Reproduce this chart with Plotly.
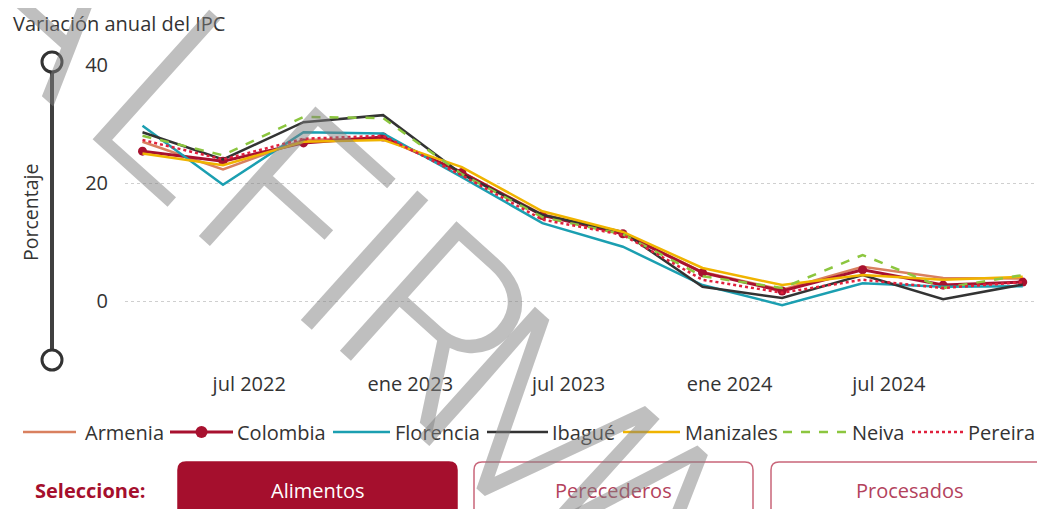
import plotly.graph_objects as go

# ---------------- data ----------------
dates = ["2022-03-01", "2022-06-01", "2022-09-01", "2022-12-01",
         "2023-03-01", "2023-06-01", "2023-09-01", "2023-12-01",
         "2024-03-01", "2024-06-01", "2024-09-01", "2024-12-01"]

armenia   = [27.0, 22.3, 27.3, 27.6, 21.8, 14.7, 11.5, 4.9, 1.9, 5.8, 3.9, 3.8]
colombia  = [25.4, 23.7, 26.8, 27.8, 21.8, 14.5, 11.4, 4.8, 1.7, 5.3, 2.7, 3.2]
florencia = [29.7, 19.7, 28.6, 28.4, 21.0, 13.2, 9.2, 2.7, -0.7, 3.0, 2.4, 2.5]
ibague    = [28.6, 24.0, 30.3, 31.5, 21.5, 14.6, 11.7, 2.4, 0.5, 4.4, 0.3, 2.8]
manizales = [25.0, 23.0, 27.0, 27.3, 22.7, 15.2, 11.7, 5.6, 2.7, 4.4, 3.6, 4.1]
neiva     = [28.0, 24.7, 31.2, 31.0, 21.5, 14.2, 11.3, 4.2, 2.2, 7.8, 2.2, 4.4]
pereira   = [27.3, 24.0, 27.5, 28.0, 21.3, 13.8, 11.2, 3.6, 1.4, 3.6, 2.2, 3.2]

tick_vals = ["2022-07-01", "2023-01-01", "2023-07-01", "2024-01-01", "2024-07-01"]
tick_text = ["jul 2022", "ene 2023", "jul 2023", "ene 2024", "jul 2024"]
y_ticks = [0, 20, 40]

buttons = ["Alimentos", "Perecederos", "Procesados"]
watermark_letters = ["A", "L", "F", "I", "R", "M", "A"]

# ---------------- layout geometry (page pixels) ----------------
OFF = 8                      # default page body margin
FW, FH = 1045 - OFF, 509 - OFF
PL, PR, PT, PB = 125, 1035, 65, 360     # plot box on the page
L = PL - OFF
T = PT - OFF
W = PR - PL
H = PB - PT
R = FW - L - W
B = FH - T - H
FONT = "Open Sans"
TXT = "#333333"
CRIMSON = "#a50f2d"


def px(x):
    return (x - PL) / W


def py(y):
    return (PB - y) / H


fig = go.Figure()

series = [
    ("Armenia", armenia, dict(color="#d9805f", width=2.5), None),
    ("Colombia", colombia, dict(color="#a8112f", width=3), dict(size=9, color="#a8112f")),
    ("Florencia", florencia, dict(color="#1b9fb1", width=2.5), None),
    ("Ibagué", ibague, dict(color="#333333", width=2.5), None),
    ("Manizales", manizales, dict(color="#f0b400", width=2.5), None),
    ("Neiva", neiva, dict(color="#8cc63f", width=2.5, dash="dash"), None),
    ("Pereira", pereira, dict(color="#e0203c", width=2.5, dash="dot"), None),
]
for name, vals, line, marker in series:
    fig.add_trace(go.Scatter(
        x=dates, y=vals, name=name,
        mode="lines+markers" if marker else "lines",
        line=line, marker=marker, showlegend=False,
    ))

shapes = []
annotations = []

# ---- custom legend (sample line + label) ----
legend_pos = [(23, 76, 83), (170, 233, 235), (333, 390, 393), (487, 548, 550),
              (623, 680, 683), (783, 847, 850), (912, 963, 966)]
LY = 432
for (name, vals, line, marker), (lx0, lx1, tx) in zip(series, legend_pos):
    shapes.append(dict(type="line", xref="paper", yref="paper",
                       x0=px(lx0), x1=px(lx1), y0=py(LY), y1=py(LY),
                       line=dict(color=line["color"], width=line["width"],
                                 dash=line.get("dash", "solid"))))
    if marker:
        cx = (lx0 + lx1) / 2
        shapes.append(dict(type="circle", xref="paper", yref="paper",
                           x0=px(cx - 6), x1=px(cx + 6), y0=py(LY + 6), y1=py(LY - 6),
                           fillcolor=line["color"], line=dict(width=0)))
    annotations.append(dict(text=name, xref="paper", yref="paper",
                            x=px(tx), y=py(LY), xanchor="left", yanchor="middle",
                            showarrow=False,
                            font=dict(family=FONT, size=20, color=TXT)))

# ---- y-axis slider decoration ----
shapes.append(dict(type="line", xref="paper", yref="paper",
                   x0=px(52), x1=px(52), y0=py(72), y1=py(350),
                   line=dict(color="#404040", width=4), layer="above"))
for cy in (62, 360):
    shapes.append(dict(type="circle", xref="paper", yref="paper",
                       x0=px(42), x1=px(62), y0=py(cy + 10), y1=py(cy - 10),
                       line=dict(color="#333333", width=3), fillcolor="white", layer="above"))


def rounded(x0, y0, x1, y1, r):
    return (f"M {px(x0 + r)},{py(y0)} L {px(x1 - r)},{py(y0)} "
            f"Q {px(x1)},{py(y0)} {px(x1)},{py(y0 + r)} "
            f"L {px(x1)},{py(y1)} L {px(x0)},{py(y1)} "
            f"L {px(x0)},{py(y0 + r)} Q {px(x0)},{py(y0)} {px(x0 + r)},{py(y0)} Z")


btn_x = [(178, 457), (474, 753), (771, 1060)]
btn_cx = [317, 613, 910]
for i, ((bx0, bx1), label, cx) in enumerate(zip(btn_x, buttons, btn_cx)):
    active = i == 0
    shapes.append(dict(type="path", xref="paper", yref="paper",
                       path=rounded(bx0, 462, bx1, 520, 8),
                       fillcolor=CRIMSON if active else "white",
                       line=dict(color=CRIMSON if active else "#c9667a", width=1.5)))
    annotations.append(dict(text=label, xref="paper", yref="paper",
                            x=px(cx), y=py(491), xanchor="center", yanchor="middle",
                            showarrow=False,
                            font=dict(family=FONT, size=20,
                                      color="white" if active else "#b3425c")))

annotations += [
    dict(text="Variación anual del IPC", xref="paper", yref="paper",
         x=px(11), y=py(24), xanchor="left", yanchor="middle", showarrow=False,
         font=dict(family=FONT, size=20, color=TXT)),
    dict(text="Porcentaje", xref="paper", yref="paper", textangle=-90,
         x=px(30), y=py(213), xanchor="center", yanchor="middle", showarrow=False,
         font=dict(family=FONT, size=19.5, color=TXT)),
    dict(text="<b>Seleccione:</b>", xref="paper", yref="paper",
         x=px(90), y=py(491), xanchor="center", yanchor="middle", showarrow=False,
         font=dict(family=FONT, size=20, color=CRIMSON)),
]

# watermark, one glyph per annotation along a diagonal
wm_pos = [(55, -5), (180, 105), (290, 205), (362, 262), (438, 326), (537, 430), (642, 517)]
for ch, (wx, wy) in zip(watermark_letters, wm_pos):
    annotations.append(dict(text=ch, xref="paper", yref="paper",
                            x=px(wx), y=py(wy), xanchor="center", yanchor="middle",
                            textangle=42, showarrow=False,
                            font=dict(family="Roboto", weight=300,
                                      size=245, color="rgba(128,128,128,0.5)")))

fig.update_layout(
    width=FW, height=FH,
    margin=dict(l=L, r=R, t=T, b=B, autoexpand=False),
    paper_bgcolor="white", plot_bgcolor="white",
    font=dict(family=FONT, size=20, color=TXT),
    showlegend=False,
    shapes=shapes,
    annotations=annotations,
    xaxis=dict(type="date", range=["2022-02-09", "2024-12-15"],
               tickvals=tick_vals, ticktext=tick_text, showgrid=False,
               zeroline=False, showline=False, ticks="", ticklabelstandoff=10,
               tickfont=dict(family=FONT, size=20, color=TXT)),
    yaxis=dict(range=[-10, 40], tickvals=y_ticks, showgrid=True,
               gridcolor="#cfcfcf", griddash="dot", gridwidth=1,
               zeroline=False, showline=False, ticks="",
               ticklabelstandoff=16,
               tickfont=dict(family=FONT, size=20, color=TXT)),
)

fig.write_html("out.html")
